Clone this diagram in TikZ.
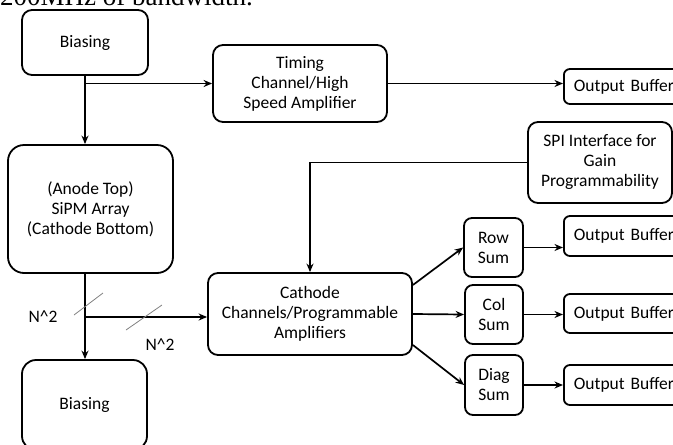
\documentclass[tikz,border=0pt]{standalone}
\usepackage{fontspec}
\setmainfont{Carlito}
\newfontfamily\seriffont{Liberation Serif}
\usetikzlibrary{arrows.meta,calc}
\begin{document}
\begin{tikzpicture}[x=1pt,y=-1pt,
  txt/.style={font=\fontsize{17.5}{20}\selectfont},
  box/.style={txt,draw,line width=1.8pt,rounded corners=10pt,align=center,inner sep=0pt},
  obox/.style={txt,draw,line width=1.8pt,rounded corners=6pt,anchor=west,text width=107pt,align=left,inner xsep=10pt,inner ysep=0pt},
  conn/.style={line width=1.7pt,-{Stealth[length=8.5pt,width=7pt]}},
  slash/.style={gray,line width=0.8pt}]
\useasboundingbox (0,0) rectangle (673,445);
\clip (0,0) rectangle (673,445);
\node[anchor=base west,font=\seriffont\fontsize{27}{30}\selectfont,inner sep=0pt] (top) at (0,5.5) {200MHz of bandwidth.};
\node[box,minimum width=126pt,minimum height=65pt] (b1) at (85,42.5) {Biasing};
\node[box,minimum width=174pt,minimum height=77pt] (tim) at (300,83.5) {Timing\\Channel/High\\Speed Amplifier};
\node[obox,minimum height=35pt] (ob1) at (563,86.5) {Output Buffer};
\node[box,minimum width=144pt,minimum height=81pt] (spi) at (600,162.5) {SPI Interface for\\Gain\\Programmability};
\node[box,minimum width=165pt,minimum height=128pt,rounded corners=16pt] (sipm) at (90.5,209) {(Anode Top)\\SiPM Array\\(Cathode Bottom)};
\node[box,minimum width=125pt,minimum height=90pt,rounded corners=14pt] (b2) at (84.5,405) {Biasing};
\node[box,minimum width=204pt,minimum height=82pt] (cath) at (310,314) {Cathode\\Channels/Programmable\\Amplifiers};
\node[box,minimum width=59pt,minimum height=59pt,rounded corners=8pt] (row) at (493.5,247.5) {Row\\Sum};
\node[box,minimum width=58pt,minimum height=59pt,rounded corners=8pt] (col) at (494,314.5) {Col\\Sum};
\node[box,minimum width=58pt,minimum height=60pt,rounded corners=8pt] (diag) at (494,385) {Diag\\Sum};
\node[obox,minimum height=40pt] (obr) at (563,236) {Output Buffer};
\node[obox,minimum height=39pt] (obc) at (563,313.5) {Output Buffer};
\node[obox,minimum height=40pt] (obd) at (563,385) {Output Buffer};
\node[txt,inner sep=0pt] (n1) at (43,317) {N\textasciicircum2};
\node[txt,inner sep=0pt] (n2) at (160,345) {N\textasciicircum2};
\coordinate (br) at (85,317);
\draw[conn] (b1.south) -- (b1.south |- sipm.north);
\draw[conn] (b1.south |- tim.west) -- (tim.west);
\draw[conn] (tim.east) -- (tim.east -| ob1.west);
\draw[conn] (spi.west) -| (cath.north);
\draw[conn] (b1.south |- sipm.south) -- (b1.south |- b2.north);
\draw[conn] (br) -- (br -| cath.west);
\draw[slash] (74,315) -- (103,293);
\draw[slash] (126,330) -- (162,305);
\draw[conn] ($(cath.east)+(0,-29)$) -- (row.west);
\draw[conn] (cath.east) -- (col.west);
\draw[conn] ($(cath.east)+(0,31)$) -- (diag.west);
\draw[conn] (row.east) -- (row.east -| obr.west);
\draw[conn] (col.east) -- (col.east -| obc.west);
\draw[conn] (diag.east) -- (diag.east -| obd.west);
\end{tikzpicture}
\end{document}
